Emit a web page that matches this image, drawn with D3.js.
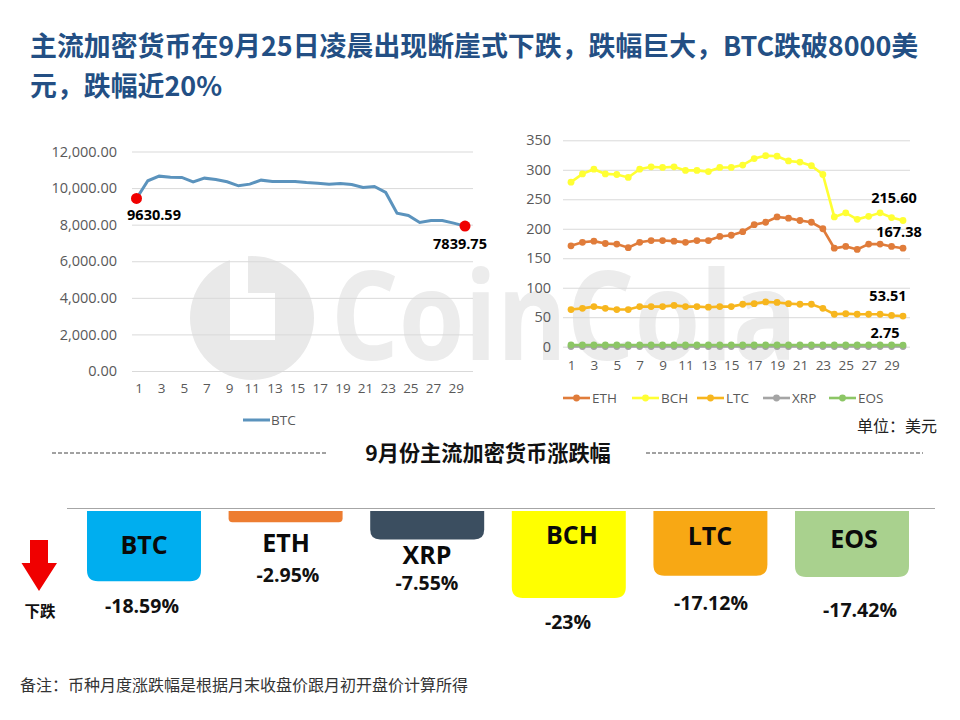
<!DOCTYPE html>
<html>
<head>
<meta charset="utf-8">
<script src="https://cdn.jsdelivr.net/npm/d3@7"></script>
<style>
  body { margin: 0; background: #fff; }
  svg { display: block; }
  text { font-family: "Open Sans", "Noto Sans CJK SC", sans-serif; }
  .cjk { font-family: "Noto Sans CJK SC", sans-serif; }
  .grid .domain { display: none; }
  .grid line { stroke: #d9d9d9; }
  .grid text { fill: #595959; font-size: 14.5px; }
  .xaxis .domain, .xaxis line { display: none; }
  .xaxis text { fill: #595959; font-size: 13.5px; }
</style>
</head>
<body>
<svg id="chart" width="960" height="720"></svg>
<script>
const days = d3.range(1, 31);

const btc = [9433, 10398, 10653, 10598, 10580, 10343, 10543, 10470, 10343, 10125,
  10216, 10434, 10361, 10361, 10361, 10307, 10270, 10216, 10252, 10197,
  10033, 10088, 9760, 8631, 8504, 8122, 8231, 8231, 8085, 7921];
const eth = [171, 177, 179, 175, 174, 168, 177, 180, 180, 179, 177, 180, 180, 187, 189,
  195, 207, 211, 220, 218, 214, 211, 200, 167, 170, 165, 174, 174, 170, 167];
const bch = [279, 293, 301, 293, 292, 287, 301, 305, 304, 305, 299, 299, 297, 304, 304,
  308, 319, 324, 323, 315, 313, 307, 292, 220, 227, 216, 221, 227, 219, 214];
const ltc = [63, 65, 68, 65, 63, 63, 68, 68, 68, 70, 68, 68, 67, 68, 68,
  72, 73, 76, 75, 73, 72, 72, 65, 55, 56, 55, 55, 55, 53, 52];
const xrp = [0.3, 0.3, 0.3, 0.3, 0.3, 0.3, 0.3, 0.3, 0.3, 0.3, 0.3, 0.3, 0.3, 0.3, 0.3,
  0.3, 0.3, 0.3, 0.3, 0.3, 0.3, 0.3, 0.3, 0.3, 0.3, 0.3, 0.3, 0.3, 0.3, 0.3];
const eos = [3, 3, 3, 3, 3, 3, 3, 3, 3, 3, 3, 3, 3, 3, 3,
  3, 3, 3, 3, 3, 3, 3, 3, 3, 3, 3, 3, 3, 3, 2.75];

const coins = ["BTC", "ETH", "XRP", "BCH", "LTC", "EOS"];
const changes = [-18.59, -2.95, -7.55, -23, -17.12, -17.42];
const changeLabels = ["-18.59%", "-2.95%", "-7.55%", "-23%", "-17.12%", "-17.42%"];

const btcTicks = [0, 2000, 4000, 6000, 8000, 10000, 12000];
const altTicks = [0, 50, 100, 150, 200, 250, 300, 350];

const svg = d3.select("#chart");

// watermark sits behind everything
const wm = svg.append("g");
wm.append("circle").attr("cx", 252).attr("cy", 318).attr("r", 62).attr("fill", "#e9e9e9");
wm.append("path").attr("d", "M230 254H248V293H275V340H230Z").attr("fill", "#fff");
wm.append("text")
  .attr("x", 331).attr("y", 360)
  .attr("textLength", 466).attr("lengthAdjust", "spacingAndGlyphs")
  .attr("font-size", 124).attr("font-weight", 700)
  .attr("fill", "#ececec")
  .text("CoinCola");

// title
const title = svg.append("g")
  .attr("fill", "#234f84").attr("font-size", 26.9).attr("font-weight", 700);
title.append("text").attr("class", "cjk").attr("x", 30).attr("y", 56)
  .text("主流加密货币在9月25日凌晨出现断崖式下跌，跌幅巨大，BTC跌破8000美");
title.append("text").attr("class", "cjk").attr("x", 30).attr("y", 96)
  .text("元，跌幅近20%");

// left chart, BTC
const xL = d3.scalePoint().domain(days).range([136.5, 465]);
const yL = d3.scaleLinear().domain([0, 12000]).range([371, 151.5]);

svg.append("g").attr("class", "grid")
  .attr("transform", "translate(132,0)")
  .call(d3.axisLeft(yL).tickValues(btcTicks).tickFormat(d3.format(",.2f")).tickSize(-341).tickPadding(15));

svg.append("g").attr("class", "xaxis")
  .attr("transform", "translate(2,371)")
  .call(d3.axisBottom(xL).tickValues(days.filter(d => d % 2 === 1)).tickSize(0).tickPadding(12));

const lineL = d3.line().x((d, i) => xL(days[i])).y(d => yL(d));
svg.append("path").datum(btc)
  .attr("d", lineL)
  .attr("fill", "none").attr("stroke", "#5b93bd").attr("stroke-width", 3);

[0, btc.length - 1].forEach(i => {
  svg.append("circle")
    .attr("cx", xL(days[i])).attr("cy", yL(btc[i])).attr("r", 5.5)
    .attr("fill", "#f00000");
});

const valueLabel = (x, y, s) => svg.append("text")
  .attr("x", x).attr("y", y)
  .attr("text-anchor", "middle")
  .attr("font-size", 14.5).attr("font-weight", 700)
  .attr("fill", "#000")
  .text(s);

valueLabel(154, 220, "9630.59");
valueLabel(460, 249, "7839.75");

svg.append("line").attr("x1", 243).attr("x2", 270).attr("y1", 420).attr("y2", 420)
  .attr("stroke", "#5b93bd").attr("stroke-width", 3);
svg.append("text").attr("x", 271).attr("y", 425)
  .attr("font-size", 13.5).attr("fill", "#595959").text("BTC");

// right chart, the other coins
const xR = d3.scalePoint().domain(days).range([571, 903]);
const yR = d3.scaleLinear().domain([0, 350]).range([346.7, 140.3]);

svg.append("g").attr("class", "grid")
  .attr("transform", "translate(563,0)")
  .call(d3.axisLeft(yR).tickValues(altTicks).tickSize(-347).tickPadding(12));

svg.append("g").attr("class", "xaxis")
  .attr("transform", "translate(0,346.7)")
  .call(d3.axisBottom(xR).tickValues(days.filter(d => d % 2 === 1)).tickSize(0).tickPadding(14));

const altNames = ["ETH", "BCH", "LTC", "XRP", "EOS"];
const altSeries = [eth, bch, ltc, xrp, eos];
const altColors = ["#e07c3a", "#ffff33", "#f7b61e", "#a5a5a5", "#8cc665"];
const legendX = [563, 632, 697, 763, 829];

const lineR = d3.line().x((d, i) => xR(days[i])).y(d => yR(d));
altSeries.forEach((vals, k) => {
  const g = svg.append("g");
  g.append("path").datum(vals)
    .attr("d", lineR)
    .attr("fill", "none").attr("stroke", altColors[k]).attr("stroke-width", 2.6);
  g.selectAll("circle").data(vals).join("circle")
    .attr("cx", (d, i) => xR(days[i]))
    .attr("cy", d => yR(d))
    .attr("r", 3.4)
    .attr("fill", altColors[k]);

  g.append("line")
    .attr("x1", legendX[k]).attr("x2", legendX[k] + 27)
    .attr("y1", 398).attr("y2", 398)
    .attr("stroke", altColors[k]).attr("stroke-width", 2.6);
  g.append("circle")
    .attr("cx", legendX[k] + 13.5).attr("cy", 398).attr("r", 3.4)
    .attr("fill", altColors[k]);
  g.append("text")
    .attr("x", legendX[k] + 29).attr("y", 403)
    .attr("font-size", 13.5).attr("fill", "#595959")
    .text(altNames[k]);
});

valueLabel(894, 203, "215.60");
valueLabel(899, 237, "167.38");
valueLabel(888, 301, "53.51");
valueLabel(885, 338, "2.75");

svg.append("text").attr("class", "cjk")
  .attr("x", 857).attr("y", 432)
  .attr("font-size", 16).attr("fill", "#222")
  .text("单位：美元");

// section heading
svg.append("text").attr("class", "cjk")
  .attr("x", 488).attr("y", 461)
  .attr("text-anchor", "middle")
  .attr("font-size", 21.2).attr("font-weight", 700).attr("fill", "#111")
  .text("9月份主流加密货币涨跌幅");

[[52, 328], [646, 923]].forEach(([a, b]) => {
  svg.append("line")
    .attr("x1", a).attr("x2", b).attr("y1", 453).attr("y2", 453)
    .attr("stroke", "#444").attr("stroke-width", 1).attr("stroke-dasharray", "4 2");
});

// monthly change bars hanging from the baseline
const xB = d3.scaleBand().domain(coins).range([87, 909]).paddingInner(0.195).paddingOuter(0).align(0);
const yB = d3.scaleLinear().domain([0, -23]).range([511, 598]);
const barColors = ["#00aeef", "#ed7d31", "#3b4e60", "#ffff00", "#f8a814", "#a9d18e"];

svg.append("line").attr("x1", 67).attr("x2", 935).attr("y1", 508.5).attr("y2", 508.5)
  .attr("stroke", "#a6a6a6").attr("stroke-width", 1);

const barPath = (x, w, top, bottom) => {
  const r = Math.min(11, (bottom - top) * 0.35);
  return `M${x} ${top}H${x + w}V${bottom - r}Q${x + w} ${bottom} ${x + w - r} ${bottom}` +
    `H${x + r}Q${x} ${bottom} ${x} ${bottom - r}Z`;
};

svg.selectAll(".bar").data(coins).join("path")
  .attr("class", "bar")
  .attr("d", (d, i) => barPath(xB(d), xB.bandwidth(), yB(0), yB(changes[i])))
  .attr("fill", (d, i) => barColors[i]);

// label placement varies per bar in the original
const nameX = [144, 286, 427, 572, 710, 854];
const nameY = [554, 552, 564, 544, 545, 548];
const changeX = [142, 288, 427, 568, 711, 860];
const changeY = [613, 582, 590, 629, 610, 617];

svg.selectAll(".coin").data(coins).join("text")
  .attr("class", "coin")
  .attr("x", (d, i) => nameX[i]).attr("y", (d, i) => nameY[i])
  .attr("text-anchor", "middle")
  .attr("font-size", 25).attr("font-weight", 700).attr("fill", "#0a0a0a")
  .text(d => d);

svg.selectAll(".change").data(changeLabels).join("text")
  .attr("class", "change")
  .attr("x", (d, i) => changeX[i]).attr("y", (d, i) => changeY[i])
  .attr("text-anchor", "middle")
  .attr("font-size", 19.5).attr("font-weight", 700).attr("fill", "#111")
  .text(d => d);

// down arrow
svg.append("path")
  .attr("d", "M30 540H48V563H57L39 591L21.5 563H30Z")
  .attr("fill", "#f00000");
svg.append("text").attr("class", "cjk")
  .attr("x", 40).attr("y", 617)
  .attr("text-anchor", "middle")
  .attr("font-size", 15.5).attr("font-weight", 700).attr("fill", "#111")
  .text("下跌");

svg.append("text").attr("class", "cjk")
  .attr("x", 20).attr("y", 691)
  .attr("font-size", 16).attr("fill", "#333")
  .text("备注：币种月度涨跌幅是根据月末收盘价跟月初开盘价计算所得");
</script>
</body>
</html>
